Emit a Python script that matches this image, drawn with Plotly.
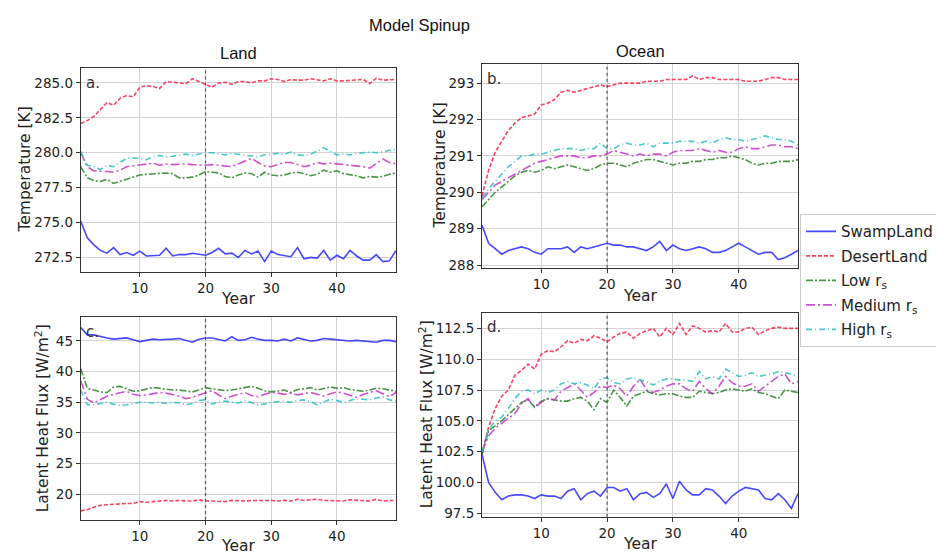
import plotly.graph_objects as go

W, H = 944, 556
years = list(range(1, 50))

# ---- Panel a: Land temperature [K]
land_T_swamp = [275.1, 273.9, 273.4, 273.0, 272.8, 273.2, 272.7, 272.85, 272.65, 272.95,
                272.6, 272.65, 272.65, 273.15, 272.6, 272.7, 272.7, 272.8, 272.7, 272.65,
                272.85, 273.15, 272.75, 272.8, 272.5, 273.0, 272.75, 272.95, 272.2, 272.95,
                272.7, 272.6, 272.55, 273.2, 272.4, 272.5, 272.45, 273.0, 272.3, 272.65,
                272.4, 273.0, 272.6, 272.3, 272.3, 272.7, 272.2, 272.25, 273.0]
land_T_desert = [282.1, 282.3, 282.6, 283.1, 283.6, 283.4, 283.9, 284.1, 284.0, 284.7,
                 284.8, 284.75, 284.6, 285.1, 285.05, 285.0, 284.95, 285.3, 285.1, 284.85,
                 284.7, 285.0, 285.05, 284.9, 285.1, 285.1, 285.0, 285.15, 285.15, 285.3,
                 285.25, 285.1, 285.25, 285.2, 285.2, 285.3, 285.2, 285.15, 285.3, 285.15,
                 285.15, 285.2, 285.2, 285.25, 284.95, 285.35, 285.2, 285.2, 285.25]
land_T_low = [279.0, 278.2, 278.0, 277.95, 278.1, 277.8, 277.95, 278.1, 278.3, 278.4,
              278.45, 278.5, 278.55, 278.55, 278.5, 278.2, 278.2, 278.25, 278.4, 278.65,
              278.6, 278.55, 278.3, 278.2, 278.4, 278.55, 278.5, 278.25, 278.6, 278.4,
              278.35, 278.4, 278.55, 278.6, 278.5, 278.35, 278.45, 278.75, 278.6, 278.7,
              278.5, 278.45, 278.35, 278.2, 278.3, 278.25, 278.3, 278.45, 278.55]
land_T_med = [280.0, 279.0, 278.7, 278.7, 278.65, 278.6, 278.75, 279.0, 279.05, 279.1,
              279.2, 279.25, 279.1, 279.2, 279.15, 279.2, 279.2, 279.15, 279.1, 279.1,
              279.15, 279.1, 279.05, 279.0, 279.2, 279.4, 279.6, 279.3, 279.05, 279.0,
              279.15, 279.3, 279.3, 279.15, 279.0, 279.1, 279.3, 279.2, 279.25, 279.2,
              279.15, 279.1, 279.1, 279.0, 278.9, 279.2, 279.55, 279.3, 279.2]
land_T_high = [280.1, 279.1, 279.0, 278.8, 279.1, 279.0, 279.3, 279.6, 279.6, 279.6,
               279.5, 279.7, 279.8, 279.7, 279.75, 279.8, 279.9, 279.8, 279.9, 280.0,
               280.0, 279.9, 279.85, 279.95, 279.9, 279.85, 279.8, 279.7, 279.85, 279.9,
               279.95, 279.9, 280.05, 279.85, 279.8, 279.9, 280.1, 280.35, 280.1, 279.85,
               279.9, 279.85, 279.95, 280.0, 280.05, 280.0, 280.1, 280.2, 280.25]

# ---- Panel b: Ocean temperature [K]
ocean_T_swamp = [289.1, 288.6, 288.45, 288.3, 288.4, 288.45, 288.5, 288.45, 288.35, 288.3,
                 288.45, 288.45, 288.45, 288.5, 288.35, 288.5, 288.45, 288.5, 288.55, 288.6,
                 288.55, 288.55, 288.5, 288.5, 288.45, 288.4, 288.5, 288.65, 288.4, 288.55,
                 288.45, 288.4, 288.45, 288.5, 288.45, 288.35, 288.35, 288.4, 288.5, 288.6,
                 288.5, 288.4, 288.3, 288.35, 288.35, 288.15, 288.2, 288.3, 288.4]
ocean_T_desert = [289.9, 290.6, 291.1, 291.4, 291.7, 291.9, 292.05, 292.1, 292.15, 292.4,
                  292.45, 292.55, 292.75, 292.8, 292.75, 292.8, 292.85, 292.9, 292.95, 292.9,
                  292.95, 293.0, 293.0, 293.0, 293.0, 293.05, 293.05, 293.05, 293.1, 293.1,
                  293.1, 293.1, 293.2, 293.1, 293.15, 293.15, 293.1, 293.1, 293.1, 293.1,
                  293.05, 293.05, 293.05, 293.1, 293.15, 293.15, 293.1, 293.1, 293.1]
ocean_T_low = [289.6, 289.8, 290.0, 290.15, 290.3, 290.45, 290.55, 290.6, 290.55, 290.6,
               290.7, 290.65, 290.7, 290.75, 290.7, 290.65, 290.6, 290.65, 290.75, 290.8,
               290.8, 290.75, 290.7, 290.8, 290.85, 290.9, 290.9, 290.85, 290.8, 290.75,
               290.8, 290.8, 290.85, 290.85, 290.9, 290.9, 290.95, 290.95, 291.0, 290.95,
               290.9, 290.8, 290.75, 290.8, 290.8, 290.85, 290.85, 290.85, 290.9]
ocean_T_med = [289.8, 290.0, 290.2, 290.3, 290.4, 290.5, 290.6, 290.7, 290.8, 290.85,
               290.9, 290.95, 291.0, 291.0, 291.0, 290.95, 290.95, 291.0, 291.0, 291.05,
               291.15, 291.1, 291.05, 291.0, 291.05, 291.0, 291.05, 291.05, 291.0, 291.1,
               291.15, 291.15, 291.15, 291.2, 291.15, 291.1, 291.15, 291.1, 291.1, 291.2,
               291.25, 291.2, 291.2, 291.25, 291.3, 291.3, 291.25, 291.25, 291.2]
ocean_T_high = [289.85, 290.1, 290.3, 290.5, 290.7, 290.85, 291.0, 291.0, 291.05, 291.05,
                291.1, 291.15, 291.2, 291.2, 291.2, 291.15, 291.2, 291.2, 291.35, 291.2,
                291.2, 291.3, 291.35, 291.3, 291.3, 291.35, 291.25, 291.35, 291.35, 291.35,
                291.4, 291.4, 291.4, 291.35, 291.4, 291.35, 291.45, 291.5, 291.45, 291.45,
                291.4, 291.45, 291.5, 291.55, 291.5, 291.45, 291.45, 291.4, 291.3]

# ---- Panel c: Land latent heat flux [W/m2]
land_L_swamp = [47.2, 46.0, 46.0, 45.7, 45.5, 45.3, 45.4, 45.5, 45.2, 44.9,
                45.1, 45.3, 45.2, 45.2, 45.3, 45.4, 45.1, 44.8, 45.3, 45.5,
                45.5, 45.2, 45.0, 45.7, 45.1, 45.2, 45.6, 45.3, 45.1, 45.1,
                45.0, 45.3, 45.0, 45.5, 45.2, 45.0, 45.1, 45.4, 45.3, 45.2,
                45.2, 45.0, 45.1, 45.0, 45.0, 44.8, 45.1, 45.1, 44.9]
land_L_desert = [17.3, 17.5, 17.9, 18.2, 18.3, 18.4, 18.5, 18.5, 18.5, 18.8,
                 18.7, 18.8, 18.8, 19.0, 18.9, 19.0, 18.9, 18.9, 19.1, 18.9,
                 18.9, 18.8, 18.8, 19.0, 18.9, 18.9, 19.0, 19.0, 19.1, 19.0,
                 18.9, 19.0, 18.9, 19.2, 19.0, 19.1, 19.2, 19.0, 19.0, 19.0,
                 18.9, 19.1, 19.0, 19.0, 18.9, 19.2, 18.9, 19.0, 19.0]
land_L_low = [40.5, 37.3, 37.0, 36.7, 36.6, 37.5, 37.6, 37.2, 36.8, 36.9,
              37.2, 37.4, 37.3, 37.1, 37.0, 37.0, 36.8, 36.7, 37.0, 37.4,
              37.2, 37.0, 36.9, 37.0, 37.2, 37.5, 37.6, 37.3, 36.9, 36.7,
              36.8, 37.0, 36.6, 37.1, 37.2, 37.4, 37.0, 37.2, 37.5, 37.3,
              37.4, 37.1, 36.9, 36.8, 37.0, 37.3, 37.2, 37.0, 36.8]
land_L_med = [38.5, 35.5, 34.9, 35.4, 36.0, 36.3, 36.5, 36.8, 36.3, 36.1,
              36.2, 36.4, 36.6, 36.5, 36.3, 36.0, 35.6, 35.8, 36.2, 36.5,
              36.9, 36.2, 35.6, 36.0, 36.3, 36.6, 36.1, 35.9, 36.3, 36.6,
              36.5, 36.3, 36.5, 36.2, 36.4, 36.6, 36.3, 36.0, 36.4, 36.7,
              36.5, 36.2, 35.8, 36.3, 36.6, 36.9, 36.4, 35.9, 36.6]
land_L_high = [37.0, 34.6, 34.6, 34.8, 35.0, 34.7, 34.5, 34.6, 34.8, 35.0,
               35.0, 34.9, 35.0, 34.8, 35.0, 34.9, 34.6, 34.8, 35.3, 35.4,
               34.7, 35.1, 35.2, 35.0, 34.9, 35.3, 35.0, 34.6, 34.7, 35.0,
               35.1, 35.2, 35.0, 35.3, 35.4, 35.1, 34.6, 35.1, 35.5, 35.3,
               35.0, 35.3, 35.6, 35.5, 35.4, 35.7, 35.9, 35.4, 35.2]

# ---- Panel d: Ocean latent heat flux [W/m2]
ocean_L_swamp = [102.3, 100.0, 99.2, 98.6, 98.9, 99.0, 99.0, 98.9, 98.7, 99.0,
                 98.9, 98.9, 98.7, 99.3, 99.5, 98.6, 99.1, 99.3, 98.9, 99.6,
                 99.6, 99.3, 99.5, 98.6, 99.1, 99.2, 98.8, 99.1, 99.9, 98.7,
                 100.1, 99.4, 99.0, 99.0, 99.5, 99.4, 98.9, 98.3, 98.9, 99.3,
                 99.6, 99.5, 99.4, 98.7, 98.6, 99.1, 98.6, 97.9, 99.1]
ocean_L_desert = [102.3, 104.5, 106.0, 107.0, 107.5, 108.7, 109.1, 109.6, 109.2, 110.4,
                  110.7, 110.6, 111.0, 111.5, 111.3, 111.6, 111.5, 111.9, 111.7, 111.4,
                  111.8, 112.1, 112.2, 111.7, 112.1, 112.3, 112.5, 111.8, 112.5, 112.0,
                  112.9, 112.0, 112.7, 112.5, 112.2, 112.3, 112.2, 112.9, 112.2, 112.2,
                  112.5, 112.6, 112.0, 112.3, 112.5, 112.6, 112.5, 112.5, 112.5]
ocean_L_low = [102.3, 104.2, 104.6, 105.0, 105.5, 106.0, 106.5, 106.7, 106.1, 106.6,
               106.8, 106.7, 106.6, 106.6, 106.8, 106.9, 106.6, 105.9, 106.8, 106.5,
               107.5, 106.9, 106.2, 107.0, 107.2, 107.4, 107.2, 107.1, 107.2, 107.2,
               107.0, 106.9, 106.9, 107.4, 107.3, 107.2, 107.3, 107.5, 107.6, 107.5,
               107.4, 107.6, 107.3, 107.2, 107.0, 106.8, 107.5, 107.4, 107.3]
ocean_L_med = [102.5, 103.8, 104.4, 104.8, 105.2, 105.6, 106.4, 106.8, 106.1, 106.5,
               106.8, 106.7, 107.4, 107.7, 108.0, 107.5, 106.9, 107.3, 107.8, 107.7,
               107.9, 107.6, 107.0, 107.8, 108.4, 107.5, 107.3, 107.5, 107.8, 108.0,
               108.0, 107.6, 107.4, 108.2, 107.6, 107.2, 107.8, 108.6, 108.1, 107.8,
               107.8, 108.0, 107.4, 107.8, 108.2, 108.6, 108.8, 108.0, 108.2]
ocean_L_high = [102.5, 104.3, 105.0, 105.3, 106.0, 106.8, 107.4, 107.5, 107.2, 107.5,
                107.3, 107.5, 108.0, 108.2, 108.0, 108.1, 107.9, 107.6, 108.4, 108.5,
                108.1, 108.0, 108.4, 108.5, 108.3, 108.2, 107.9, 108.2, 108.4, 108.4,
                108.3, 108.3, 108.2, 109.0, 108.4, 108.6, 108.4, 109.2, 108.9, 108.6,
                108.7, 108.9, 108.6, 108.7, 108.8, 109.0, 108.9, 108.8, 108.6]

series_names = ["SwampLand", "DesertLand", "Low r<sub>s</sub>", "Medium r<sub>s</sub>", "High r<sub>s</sub>"]
series_colors = ["rgba(40,40,255,0.85)", "rgba(255,30,70,0.85)", "rgba(40,130,40,0.85)",
                 "rgba(200,50,200,0.85)", "rgba(40,190,190,0.85)"]
series_dash = ["solid", "4px,2px", "7px,2px,2px,2px", "9px,3px,2px,3px", "6px,3px,1px,3px"]

panels = [
    ("x", "y", [land_T_swamp, land_T_desert, land_T_low, land_T_med, land_T_high]),
    ("x2", "y2", [ocean_T_swamp, ocean_T_desert, ocean_T_low, ocean_T_med, ocean_T_high]),
    ("x3", "y3", [land_L_swamp, land_L_desert, land_L_low, land_L_med, land_L_high]),
    ("x4", "y4", [ocean_L_swamp, ocean_L_desert, ocean_L_low, ocean_L_med, ocean_L_high]),
]

fig = go.Figure()
for pi, (xa, ya, data) in enumerate(panels):
    for si, vals in enumerate(data):
        fig.add_trace(go.Scatter(
            x=years, y=vals, xaxis=xa, yaxis=ya, mode="lines",
            name=series_names[si], legendgroup=series_names[si],
            showlegend=(pi == 0),
            line=dict(color=series_colors[si], width=1.6, dash=series_dash[si]),
        ))

def px_x(p):
    return p / W

def px_y(p):
    return 1 - p / H

# panel boxes in pixels (left, right, top, bottom)
boxes = {
    "1": (72.7, 388, 61, 266),
    "2": (474, 790, 56.7, 262),
    "3": (72.7, 388, 311.7, 516.7),
    "4": (474, 790, 307.7, 513.3),
}
yranges = {"1": [271.48, 286.04], "2": [287.93, 293.52], "3": [15.8, 48.93], "4": [97.23, 113.75]}
yticks = {
    "1": ([272.5, 275.0, 277.5, 280.0, 282.5, 285.0], ".1f"),
    "2": ([288, 289, 290, 291, 292, 293], "d"),
    "3": ([20, 25, 30, 35, 40, 45], "d"),
    "4": ([97.5, 100.0, 102.5, 105.0, 107.5, 110.0, 112.5], ".1f"),
}

tickfont = dict(family="DejaVu Sans", size=13.5, color="#222")
layout = dict(
    width=W, height=H, margin=dict(l=0, r=0, t=0, b=0),
    paper_bgcolor="white", plot_bgcolor="white",
    font=dict(family="DejaVu Sans", color="#222"),
)
for k, (l, r, t, b) in boxes.items():
    xk = "xaxis" if k == "1" else f"xaxis{k}"
    yk = "yaxis" if k == "1" else f"yaxis{k}"
    ax_y = "y" if k == "1" else f"y{k}"
    ax_x = "x" if k == "1" else f"x{k}"
    layout[xk] = dict(
        domain=[px_x(l), px_x(r)], anchor=ax_y, range=[1, 49],
        tickvals=[10, 20, 30, 40], showgrid=True, gridcolor="#d3d3d3", gridwidth=1,
        showline=True, linecolor="#333", linewidth=1, mirror=True,
        ticks="outside", ticklen=4, tickcolor="#333", tickfont=tickfont, zeroline=False,
    )
    layout[yk] = dict(
        domain=[px_y(b), px_y(t)], anchor=ax_x, range=yranges[k],
        tickvals=yticks[k][0], tickformat=yticks[k][1],
        showgrid=True, gridcolor="#d3d3d3", gridwidth=1,
        showline=True, linecolor="#333", linewidth=1, mirror=True,
        ticks="outside", ticklen=4, tickcolor="#333", tickfont=tickfont, zeroline=False,
    )

fig.update_layout(**layout)

# vertical dotted lines at year 20
for k in ["", "2", "3", "4"]:
    fig.add_shape(type="line", xref=f"x{k}", yref=f"y{k} domain", x0=20, x1=20, y0=0, y1=1,
                  line=dict(color="#555", width=1.2, dash="dot"))

ann = []
def txt(x, y, s, size, family="DejaVu Sans", angle=0, color="#222"):
    ann.append(dict(x=px_x(x), y=px_y(y), xref="paper", yref="paper", text=s, showarrow=False,
                    xanchor="center", yanchor="middle", textangle=angle,
                    font=dict(family=family, size=size, color=color)))

txt(411, 17, "Model Spinup", 16.5, "Liberation Sans", color="#111")
txt(230, 45, "Land", 16.5, "Liberation Sans", color="#111")
txt(632, 43, "Ocean", 16.5, "Liberation Sans", color="#111")
txt(17, 163, "Temperature [K]", 15.5, angle=-90)
txt(432, 159, "Temperature [K]", 15.5, angle=-90)
txt(34, 414, "Latent Heat Flux [W/m<sup>2</sup>]", 15.5, angle=-90)
txt(418, 410, "Latent Heat Flux [W/m<sup>2</sup>]", 15.5, angle=-90)
txt(230, 294, "Year", 15.5)
txt(632, 291, "Year", 15.5)
txt(230, 543, "Year", 15.5)
txt(632, 541, "Year", 15.5)
txt(85, 76, "a.", 15, color="#333")
txt(486, 72, "b.", 15, color="#333")
txt(84, 327, "c.", 15, color="#333")
txt(486, 322, "d.", 15, color="#333")
fig.update_layout(annotations=ann)

fig.update_layout(legend=dict(
    x=px_x(792), y=px_y(208), xanchor="left", yanchor="top",
    bordercolor="#cccccc", borderwidth=1, bgcolor="white",
    font=dict(family="DejaVu Sans", size=15, color="#222"),
    traceorder="grouped", tracegroupgap=2, itemwidth=30,
))

fig.write_html("out.html")
